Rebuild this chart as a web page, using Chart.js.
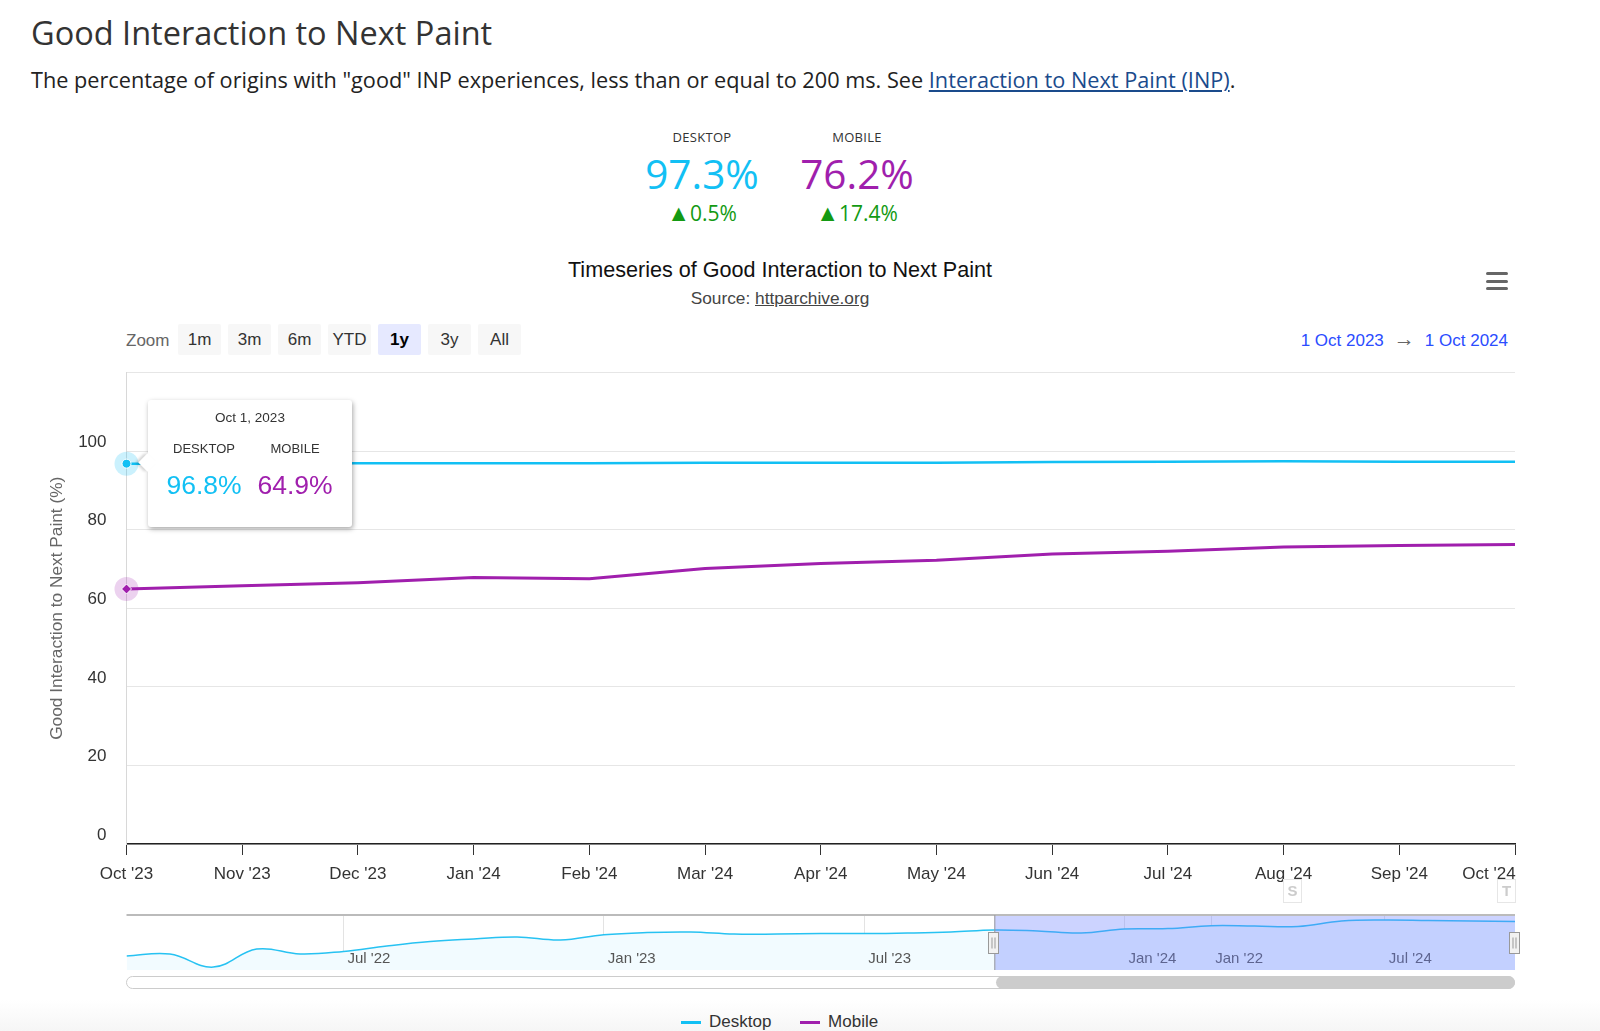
<!DOCTYPE html>
<html>
<head>
<meta charset="utf-8">
<script src="https://cdn.jsdelivr.net/npm/chart.js@4.4.1/dist/chart.umd.min.js"></script>
<style>
  body { margin: 0; background: #fff; width: 1600px; height: 1031px; position: relative; overflow: hidden; }
  .abs { position: absolute; white-space: nowrap; }
  .os { font-family: "Open Sans", sans-serif; }
  .ls { font-family: "Liberation Sans", Arial, sans-serif; }
  .btn { position: absolute; top: 324px; width: 43px; height: 31px; line-height: 31px; background: #f7f7f7;
         text-align: center; font-size: 17px; color: #333; border-radius: 2px; }
  .btn.sel { background: #e6e9ff; font-weight: bold; color: #000; }
  #tip { position: absolute; left: 148px; top: 400px; width: 204px; height: 127px; background: #fff;
         border-radius: 3px; box-shadow: 1px 2px 5px rgba(0,0,0,0.35); }
  #tip:before { content: ""; position: absolute; left: -7px; top: 56px; width: 13px; height: 13px; background: #fff;
         transform: rotate(45deg); box-shadow: -2px 2px 3px rgba(0,0,0,0.18); }
  #tip .t { position: absolute; width: 100px; text-align: center; margin-left: -50px; }
  .flag { position: absolute; width: 17px; height: 22px; border: 1px solid #e6e6e6; color: #ccc;
          font-size: 15px; font-weight: bold; text-align: center; line-height: 22px; font-family: "Liberation Sans", Arial, sans-serif; }
</style>
</head>
<body>
<!-- page header -->
<div class="abs os" style="left:31px;top:13px;font-size:32.5px;line-height:40px;color:#333;">Good Interaction to Next Paint</div>
<div class="abs os" style="left:31px;top:67px;font-size:21.7px;line-height:26px;color:#222;">The percentage of origins with "good" INP experiences, less than or equal to 200 ms. See <span style="color:#1a4b8c;text-decoration:underline;">Interaction to Next Paint (INP)</span>.</div>

<!-- KPI block -->
<div id="kpi"></div>

<!-- chart title -->
<div class="abs ls" style="left:480px;width:600px;text-align:center;top:257px;font-size:21.6px;line-height:26px;color:#111;">Timeseries of Good Interaction to Next Paint</div>
<div class="abs ls" style="left:580px;width:400px;text-align:center;top:288px;font-size:17.3px;line-height:20px;color:#444;">Source: <span style="text-decoration:underline;">httparchive.org</span></div>

<!-- hamburger -->
<div class="abs" style="left:1486px;top:272px;width:22px;height:3px;background:#666;border-radius:2px;"></div>
<div class="abs" style="left:1486px;top:279.5px;width:22px;height:3px;background:#666;border-radius:2px;"></div>
<div class="abs" style="left:1486px;top:287px;width:22px;height:3px;background:#666;border-radius:2px;"></div>

<!-- range selector -->
<div class="abs ls" style="left:126px;top:331px;font-size:17px;line-height:20px;color:#666;">Zoom</div>
<div id="btns" class="ls"></div>
<div class="abs ls" style="right:92px;top:329px;font-size:17px;line-height:20px;">
  <span style="color:#2b4cff;">1 Oct 2023</span><span style="color:#666;margin:0 10px;font-size:21px;">&rarr;</span><span style="color:#2b4cff;">1 Oct 2024</span>
</div>

<!-- main chart -->
<canvas id="main" class="abs" width="1520" height="540" style="left:40px;top:360px;"></canvas>

<!-- flags -->
<div class="flag" style="left:1283px;top:879px;">S</div>
<div class="flag" style="left:1497px;top:879px;">T</div>

<!-- tooltip -->
<div id="tip" class="ls"></div>

<!-- navigator -->
<canvas id="nav" class="abs" width="1440" height="75" style="left:100px;top:905px;"></canvas>

<!-- scrollbar -->
<div class="abs" style="left:126px;top:976px;width:1387px;height:11px;border:1px solid #ccc;border-radius:7px;background:#fff;"></div>
<div class="abs" style="left:996px;top:976px;width:519px;height:13px;border-radius:7px;background:#cccccc;"></div>

<!-- legend -->
<div class="abs" style="left:0;top:1000px;width:1600px;height:31px;background:linear-gradient(#fff, #f6f6f6);"></div>
<div class="abs ls" style="left:681px;top:1012px;font-size:17px;line-height:20px;color:#333;">
  <span style="display:inline-block;width:20px;height:3px;background:#12c0f4;vertical-align:middle;margin-right:8px;"></span>Desktop
  <span style="display:inline-block;width:20px;height:3px;background:#a01fad;vertical-align:middle;margin:0 8px 0 24px;"></span>Mobile
</div>

<script>
// Categories and values
const months = ["Oct '23", "Nov '23", "Dec '23", "Jan '24", "Feb '24", "Mar '24", "Apr '24",
                "May '24", "Jun '24", "Jul '24", "Aug '24", "Sep '24", "Oct '24"];
const desktopValues = [96.8, 96.8, 96.9, 96.9, 96.9, 97.0, 97.0, 97.0, 97.2, 97.3, 97.4, 97.3, 97.3];
const mobileValues = [64.9, 65.7, 66.5, 67.8, 67.5, 70.1, 71.4, 72.2, 73.8, 74.5, 75.6, 76.0, 76.2];

const yTicks = [0, 20, 40, 60, 80, 100];

// KPI summary
const kpiLabels = ['DESKTOP', 'MOBILE'];
const kpiValues = ['97.3%', '76.2%'];
const kpiChanges = ['0.5%', '17.4%'];

// Zoom buttons
const zoomButtons = ['1m', '3m', '6m', 'YTD', '1y', '3y', 'All'];
const selectedZoom = '1y';

// Navigator: monthly desktop values, Feb '22 .. Oct '24
const navValues = [95.27, 95.39, 94.62, 95.68, 95.39, 95.54, 95.86, 96.12, 96.27, 96.39, 96.21,
                   96.52, 96.65, 96.68, 96.56, 96.56, 96.59, 96.59, 96.62, 96.68, 96.80, 96.74,
                   96.62, 96.86, 96.88, 97.05, 97.03, 97.01, 97.33, 97.39, 97.36, 97.33, 97.30];
const navTickIdx = [5, 11, 17, 23, 25, 29];
const navTickLabels = ["Jul '22", "Jan '23", "Jul '23", "Jan '24", "Jan '22", "Jul '24"];
const navSelection = [20, 32];

// Colors
const colors = {
  desktop: '#12c0f4',
  mobile: '#a01fad',
  up: '#139a13'
};

// Build KPI block
const kpiCenters = [702, 857];
let kpiHtml = '';
kpiLabels.forEach((lab, i) => {
  const c = kpiCenters[i];
  const col = i === 0 ? colors.desktop : colors.mobile;
  kpiHtml += `<div class="abs os" style="left:${c-100}px;width:200px;text-align:center;top:129px;font-size:13px;line-height:16px;color:#333;letter-spacing:0.3px;">${lab}</div>`;
  kpiHtml += `<div class="abs os" style="left:${c-100}px;width:200px;text-align:center;top:149px;font-size:40.5px;line-height:50px;color:${col};">${kpiValues[i]}</div>`;
  kpiHtml += `<div class="abs os" style="left:${c-100}px;width:200px;text-align:center;top:200px;font-size:21px;line-height:24px;color:${colors.up};"><span style="font-size:23px;">&#9650;</span>${kpiChanges[i]}</div>`;
});
document.getElementById('kpi').innerHTML = kpiHtml;

// Build zoom buttons
let btnHtml = '';
zoomButtons.forEach((b, i) => {
  const cls = b === selectedZoom ? 'btn sel' : 'btn';
  btnHtml += `<div class="${cls}" style="left:${178 + i * 50}px;">${b}</div>`;
});
document.getElementById('btns').innerHTML = btnHtml;

// Tooltip for the first point
document.getElementById('tip').innerHTML =
  `<div class="t" style="left:102px;top:10px;font-size:13.5px;color:#333;width:160px;margin-left:-80px;">Oct 1, 2023</div>` +
  `<div class="t" style="left:56px;top:41px;font-size:13px;color:#333;">DESKTOP</div>` +
  `<div class="t" style="left:147px;top:41px;font-size:13px;color:#333;">MOBILE</div>` +
  `<div class="t" style="left:56px;top:70px;font-size:26.5px;color:${colors.desktop};">${desktopValues[0].toFixed(1)}%</div>` +
  `<div class="t" style="left:147px;top:70px;font-size:26.5px;color:${colors.mobile};">${mobileValues[0].toFixed(1)}%</div>`;

Chart.defaults.font.family = '"Liberation Sans", Arial, sans-serif';
Chart.defaults.color = '#333';

// Hover markers with halos on the first point
const hoverMarks = {
  id: 'hoverMarks',
  afterDatasetsDraw(chart) {
    const ctx = chart.ctx;
    const p0 = chart.getDatasetMeta(0).data[0];
    const p1 = chart.getDatasetMeta(1).data[0];
    ctx.save();
    ctx.fillStyle = 'rgba(18,192,244,0.22)';
    ctx.beginPath(); ctx.arc(p0.x, p0.y, 12, 0, Math.PI * 2); ctx.fill();
    ctx.fillStyle = 'rgba(160,31,173,0.2)';
    ctx.beginPath(); ctx.arc(p1.x, p1.y, 12, 0, Math.PI * 2); ctx.fill();
    ctx.strokeStyle = '#fff';
    ctx.lineWidth = 1;
    ctx.fillStyle = colors.desktop;
    ctx.beginPath(); ctx.arc(p0.x, p0.y, 4.5, 0, Math.PI * 2); ctx.fill(); ctx.stroke();
    ctx.fillStyle = colors.mobile;
    ctx.beginPath();
    ctx.moveTo(p1.x, p1.y - 5); ctx.lineTo(p1.x + 5, p1.y); ctx.lineTo(p1.x, p1.y + 5); ctx.lineTo(p1.x - 5, p1.y);
    ctx.closePath(); ctx.fill(); ctx.stroke();
    ctx.restore();
  }
};

new Chart(document.getElementById('main'), {
  type: 'line',
  data: {
    labels: months,
    datasets: [
      { label: 'Desktop', data: desktopValues, borderColor: colors.desktop, borderWidth: 2.5, pointRadius: 0, tension: 0 },
      { label: 'Mobile', data: mobileValues, borderColor: colors.mobile, borderWidth: 3, pointRadius: 0, tension: 0 }
    ]
  },
  options: {
    responsive: false,
    animation: false,
    layout: { padding: { top: 12.5, right: 45, left: 0, bottom: 0 } },
    plugins: { legend: { display: false }, tooltip: { enabled: false } },
    scales: {
      x: {
        offset: false,
        grid: { drawOnChartArea: false, drawTicks: true, tickLength: 11, color: '#333', lineWidth: 1 },
        border: { display: true, color: '#222', width: 1.5 },
        ticks: {
          font: { size: 17 }, color: '#333', padding: 9, maxRotation: 0, autoSkip: false,
          // keep the last label inside the plot, as the original does
          callback: (v, i) => (i === months.length - 1 ? months[i] + '           ' : months[i])
        },
        afterFit: s => { s.height = 56; s.paddingLeft = 0; s.paddingRight = 0; }
      },
      y: {
        min: 0, max: 120,
        afterBuildTicks: axis => { axis.ticks = yTicks.concat([120]).map(v => ({ value: v })); },
        grid: { color: '#e6e6e6', drawTicks: false },
        border: { display: true, color: '#d8d8d8' },
        ticks: { font: { size: 17 }, color: '#333', padding: 20, labelOffset: -9, callback: v => (v > 100 ? '' : v) },
        title: { display: true, text: 'Good Interaction to Next Paint (%)', color: '#666', font: { size: 17.3 }, padding: { top: 7, bottom: 0 } },
        afterFit: s => { s.width = 86.5; s.paddingTop = 0; s.paddingBottom = 0; }
      }
    }
  },
  plugins: [hoverMarks]
});

// Navigator overlay: labels, selection mask, handles
const navOverlay = {
  id: 'navOverlay',
  afterDatasetsDraw(chart) {
    const ctx = chart.ctx;
    const a = chart.chartArea;
    const xs = chart.scales.x;
    ctx.save();
    ctx.font = '15px "Liberation Sans", Arial, sans-serif';
    ctx.fillStyle = '#555';
    ctx.textBaseline = 'middle';
    navTickIdx.forEach((v, i) => {
      ctx.fillText(navTickLabels[i], xs.getPixelForValue(v) + 4, a.bottom - 11);
    });
    const x0 = xs.getPixelForValue(navSelection[0]);
    const x1 = xs.getPixelForValue(navSelection[1]);
    ctx.fillStyle = 'rgba(110,130,255,0.35)';
    ctx.fillRect(x0, a.top, x1 - x0, a.bottom - a.top);
    // outline
    ctx.strokeStyle = '#bbb';
    ctx.lineWidth = 2;
    ctx.beginPath(); ctx.moveTo(a.left, a.top); ctx.lineTo(a.right, a.top); ctx.stroke();
    ctx.lineWidth = 1;
    ctx.strokeStyle = '#999';
    ctx.beginPath(); ctx.moveTo(x0 + 0.5, a.top); ctx.lineTo(x0 + 0.5, a.bottom); ctx.stroke();
    // handles
    [x0, x1].forEach(x => {
      const hx = Math.round(x) - 5.5, hy = 932.5 - 905;
      ctx.fillStyle = '#f2f2f2';
      ctx.strokeStyle = '#999';
      ctx.fillRect(hx, hy, 10, 21);
      ctx.strokeRect(hx, hy, 10, 21);
      ctx.beginPath();
      ctx.moveTo(hx + 3.5, hy + 5); ctx.lineTo(hx + 3.5, hy + 16);
      ctx.moveTo(hx + 6.5, hy + 5); ctx.lineTo(hx + 6.5, hy + 16);
      ctx.stroke();
    });
    ctx.restore();
  }
};

new Chart(document.getElementById('nav'), {
  type: 'line',
  data: {
    labels: navValues.map((v, i) => i),
    datasets: [{
      data: navValues.map((v, i) => ({ x: i, y: v })),
      borderColor: '#27c2f2', borderWidth: 1.5, pointRadius: 0, tension: 0.4,
      fill: 'start', backgroundColor: '#f2fbff'
    }]
  },
  options: {
    responsive: false,
    animation: false,
    layout: { padding: { top: 10, right: 25, left: 26.5, bottom: 10 } },
    plugins: { legend: { display: false }, tooltip: { enabled: false } },
    scales: {
      x: {
        type: 'linear', min: 0, max: 32,
        afterBuildTicks: axis => { axis.ticks = navTickIdx.map(v => ({ value: v })); },
        grid: { color: '#e3e3e3', drawTicks: false },
        border: { display: false },
        ticks: { display: false },
        afterFit: s => { s.height = 0; }
      },
      y: { display: false, min: 94.45, max: 97.68 }
    }
  },
  plugins: [navOverlay]
});
</script>
</body>
</html>
